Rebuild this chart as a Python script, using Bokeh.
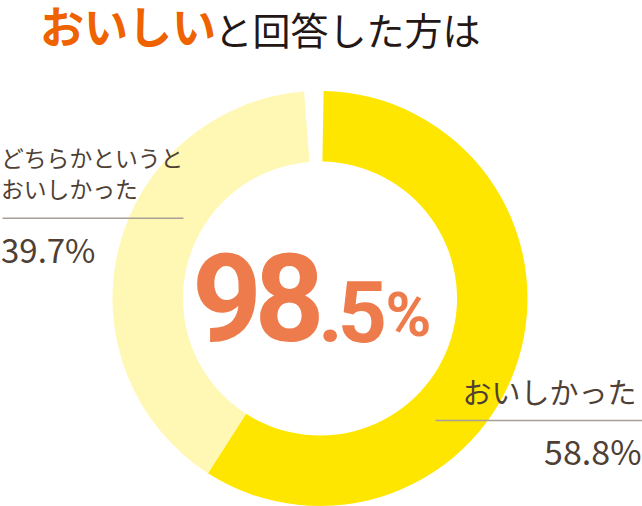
import numpy as np
from bokeh.plotting import figure
from bokeh.models import Range1d, ColumnDataSource
from bokeh.core.properties import value
from bokeh.embed import file_html
from bokeh.resources import INLINE

# ---- data ----
categories = ["おいしかった", "どちらかというと"]
category_line2 = ["", "おいしかった"]
shares = [58.8, 39.7]
share_labels = ["58.8%", "39.7%"]
slice_colors = ["#FFE600", "#FFF8B4"]
total_chars = ["9", "8", ".", "5", "%"]
title_a = "おいしい"
title_b = "と回答した方は"

W, H = 642, 506
JP = value("Noto Sans CJK JP")
NUM = value("Roboto")

p = figure(width=W, height=H, x_range=Range1d(0, W), y_range=Range1d(0, H),
           x_axis_type=None, y_axis_type=None, min_border=0, toolbar_location=None,
           output_backend="svg", outline_line_color=None, background_fill_color="white",
           border_fill_color="white")
p.grid.visible = False


def Y(y):
    return H - y


def fs(px):
    return f"{px:.1f}px"


# ---- donut ----
cx, cy = 319.5, Y(298)
r_out, r_in = 207.5, 137
acc = 1.0
starts, ends = [], []
for v in shares:
    starts.append(np.deg2rad(90 - acc))
    acc += v * 3.6
    ends.append(np.deg2rad(90 - acc))
src = ColumnDataSource(dict(start=starts, end=ends, color=slice_colors))
p.annular_wedge(x=cx, y=cy, inner_radius=r_in, outer_radius=r_out, start_angle="start",
                end_angle="end", direction="clock", fill_color="color", line_color=None, source=src)

# ---- title ----
p.text(x=[39.5], y=[Y(24)], text=[title_a], text_font=JP, text_font_size=fs(44),
       text_font_style="bold", text_color="#EE6200", text_baseline="middle", text_align="left")
p.text(x=[214], y=[Y(28)], text=[title_b], text_font=JP, text_font_size=fs(38),
       text_color="#231815", text_baseline="middle", text_align="left")

# ---- center total ----
orange = "#EE7B4B"
char_x = [226.5, 289, 330, 362, 408]
char_y = [296.5, 296.5, 310.5, 310.5, 314]
char_size = [122, 122, 86, 86, 62]
for ch, xx, yy, sz in zip(total_chars, char_x, char_y, char_size):
    p.text(x=[xx], y=[Y(yy)], text=[ch], text_font=NUM, text_font_size=fs(sz),
           text_font_style="bold", text_color=orange, text_baseline="middle", text_align="center")

brown = "#4F3F35"
rule = "#A89F99"
# left label (どちらかというとおいしかった)
p.text(x=[0.5], y=[Y(157)], text=[categories[1]], text_font=JP, text_font_size=fs(22.8),
       text_color=brown, text_baseline="middle", text_align="left")
p.text(x=[0.5], y=[Y(188)], text=[category_line2[1]], text_font=JP, text_font_size=fs(22.8),
       text_color=brown, text_baseline="middle", text_align="left")
p.segment(x0=[2], y0=[Y(217.7)], x1=[183], y1=[Y(217.7)], line_color=rule, line_width=1.4)
p.text(x=[0.5], y=[Y(248.5)], text=[share_labels[1]], text_font=JP, text_font_size=fs(33),
       text_color=brown, text_baseline="middle", text_align="left")

# right label (おいしかった)
p.text(x=[636], y=[Y(390)], text=[categories[0]], text_font=JP, text_font_size=fs(29),
       text_color=brown, text_baseline="middle", text_align="right")
p.segment(x0=[435], y0=[Y(420)], x1=[642], y1=[Y(420)], line_color=rule, line_width=1.4)
p.text(x=[641], y=[Y(449.5)], text=[share_labels[0]], text_font=JP, text_font_size=fs(34),
       text_color=brown, text_baseline="middle", text_align="right")

open("out.html", "w").write(file_html(p, INLINE))
